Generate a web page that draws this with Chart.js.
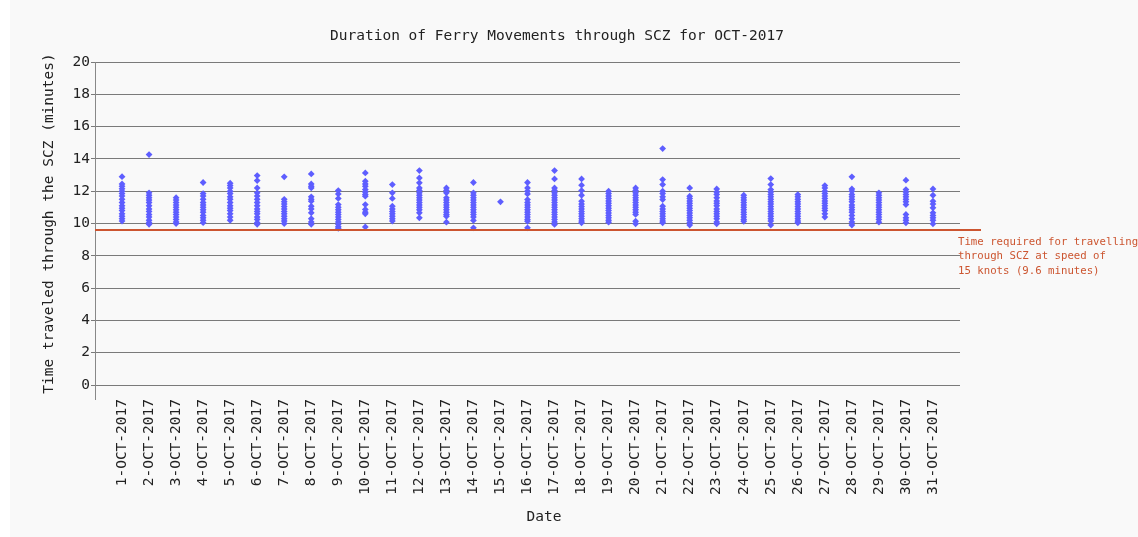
<!DOCTYPE html>
<html>
<head>
<meta charset="utf-8">
<script src="https://cdn.jsdelivr.net/npm/chart.js@4.4.1/dist/chart.umd.min.js"></script>
<style>
  html, body { margin: 0; padding: 0; background: #ffffff; }
  #wrap { position: absolute; left: 10px; top: 0; width: 1128px; height: 537px; background: #f9f9f9; }
</style>
</head>
<body>
<div id="wrap"><canvas id="chart" width="1128" height="537"></canvas></div>
<script>
// Dates along the x axis
const dayLabels = [];
for (let d = 1; d <= 31; d++) dayLabels.push(d + '-OCT-2017');

// Minutes taken by each ferry crossing, one list per day
const durations = [
  [12.9, 12.45, 12.3, 12.15, 12.0, 11.85, 11.7, 11.5, 11.3, 11.1, 10.95, 10.8, 10.6, 10.45, 10.3, 10.15],
  [14.27, 11.9, 11.75, 11.6, 11.45, 11.3, 11.1, 10.9, 10.75, 10.55, 10.4, 10.2, 10.05, 9.95],
  [11.6, 11.45, 11.3, 11.15, 11.0, 10.85, 10.7, 10.55, 10.4, 10.25, 10.1, 10.0],
  [12.54, 11.85, 11.7, 11.5, 11.3, 11.15, 11.0, 10.85, 10.7, 10.5, 10.35, 10.2, 10.05],
  [12.5, 12.35, 12.2, 12.0, 11.85, 11.65, 11.5, 11.3, 11.1, 10.95, 10.8, 10.6, 10.4, 10.2],
  [12.97, 12.66, 12.2, 11.9, 11.7, 11.5, 11.3, 11.1, 10.9, 10.75, 10.6, 10.4, 10.25, 10.05, 9.95],
  [12.89, 11.5, 11.35, 11.2, 11.05, 10.9, 10.75, 10.6, 10.45, 10.3, 10.15, 10.0],
  [13.07, 12.45, 12.3, 12.2, 11.65, 11.5, 11.38, 11.07, 10.9, 10.66, 10.3, 10.1, 9.95],
  [12.04, 11.83, 11.55, 11.17, 11.0, 10.85, 10.7, 10.55, 10.4, 10.25, 10.1, 9.95, 9.8, 9.7],
  [13.13, 12.62, 12.45, 12.3, 12.1, 11.95, 11.8, 11.69, 11.17, 10.87, 10.7, 10.6, 9.79],
  [12.41, 11.9, 11.55, 11.07, 10.9, 10.75, 10.6, 10.45, 10.3, 10.15],
  [13.28, 12.82, 12.52, 12.2, 12.05, 11.9, 11.75, 11.6, 11.45, 11.3, 11.15, 11.0, 10.85, 10.66, 10.35],
  [12.2, 12.05, 11.9, 11.59, 11.45, 11.3, 11.15, 11.0, 10.85, 10.7, 10.55, 10.45, 10.08],
  [12.54, 11.9, 11.75, 11.6, 11.45, 11.3, 11.15, 11.0, 10.85, 10.7, 10.55, 10.4, 10.19, 9.73],
  [11.34],
  [12.54, 12.2, 12.0, 11.83, 11.48, 11.3, 11.15, 11.0, 10.85, 10.7, 10.55, 10.4, 10.25, 10.14, 9.73],
  [13.28, 12.76, 12.2, 12.05, 11.9, 11.75, 11.6, 11.45, 11.3, 11.15, 11.0, 10.85, 10.7, 10.55, 10.4, 10.25, 10.1, 9.94],
  [12.76, 12.37, 12.04, 11.75, 11.38, 11.2, 11.05, 10.9, 10.75, 10.6, 10.45, 10.3, 10.15, 10.04],
  [12.0, 11.85, 11.7, 11.55, 11.4, 11.25, 11.1, 10.95, 10.8, 10.65, 10.5, 10.35, 10.2, 10.08],
  [12.2, 12.05, 11.9, 11.75, 11.6, 11.45, 11.3, 11.15, 11.0, 10.85, 10.7, 10.56, 10.14, 9.98],
  [14.64, 12.72, 12.41, 12.0, 11.85, 11.65, 11.48, 11.07, 10.9, 10.75, 10.6, 10.45, 10.3, 10.15, 10.04],
  [12.2, 11.69, 11.55, 11.4, 11.25, 11.1, 10.95, 10.8, 10.65, 10.5, 10.35, 10.2, 10.05, 9.9],
  [12.14, 11.95, 11.8, 11.6, 11.4, 11.25, 11.1, 10.9, 10.75, 10.6, 10.45, 10.3, 10.1, 9.98],
  [11.75, 11.6, 11.45, 11.3, 11.15, 11.0, 10.85, 10.7, 10.55, 10.4, 10.25, 10.14],
  [12.78, 12.41, 12.1, 11.95, 11.8, 11.65, 11.5, 11.35, 11.2, 11.05, 10.9, 10.75, 10.6, 10.45, 10.3, 10.15, 9.9],
  [11.79, 11.65, 11.5, 11.35, 11.2, 11.05, 10.9, 10.75, 10.6, 10.45, 10.3, 10.15, 10.04],
  [12.35, 12.2, 12.0, 11.85, 11.7, 11.55, 11.4, 11.25, 11.1, 10.95, 10.8, 10.6, 10.4],
  [12.89, 12.14, 12.0, 11.8, 11.65, 11.5, 11.35, 11.15, 11.0, 10.85, 10.7, 10.5, 10.3, 10.1, 9.9],
  [11.9, 11.75, 11.6, 11.45, 11.3, 11.15, 11.0, 10.85, 10.7, 10.55, 10.4, 10.25, 10.08],
  [12.68, 12.1, 11.95, 11.8, 11.65, 11.5, 11.35, 11.17, 10.56, 10.35, 10.2, 10.04],
  [12.14, 11.75, 11.38, 11.2, 10.97, 10.66, 10.5, 10.35, 10.2, 9.98]
];

// Reference speed line (15 knots)
const thresholdMinutes = 9.6;
const thresholdLines = ['Time required for travelling', 'through SCZ at speed of', '15 knots (9.6 minutes)'];

const chartTitle = 'Duration of Ferry Movements through SCZ for OCT-2017';
const xTitle = 'Date';

const MONO = '"DejaVu Sans Mono", "Liberation Mono", monospace';
const RED = '#cc5530';
const INK = '#222';

const punkte = [];
durations.forEach((tag, i) => {
  tag.forEach(v => punkte.push({ x: i + 1, y: v }));
});

// Title, x title, red threshold line + note right of the plot
const schwellePlugin = {
  id: 'schwelle',
  afterDatasetsDraw(chart) {
    const ctx = chart.ctx;
    const area = chart.chartArea;
    const y = chart.scales.y.getPixelForValue(thresholdMinutes);
    ctx.save();
    // y axis runs a bit below zero like the original
    ctx.strokeStyle = '#888';
    ctx.lineWidth = 1;
    ctx.beginPath();
    ctx.moveTo(area.left + 0.5, area.bottom);
    ctx.lineTo(area.left + 0.5, area.bottom + 15);
    ctx.stroke();

    ctx.strokeStyle = RED;
    ctx.lineWidth = 2;
    ctx.beginPath();
    ctx.moveTo(area.left, y);
    ctx.lineTo(area.right + 21, y);
    ctx.stroke();

    ctx.fillStyle = RED;
    ctx.font = '10.7px ' + MONO;
    ctx.textBaseline = 'middle';
    ctx.textAlign = 'left';
    thresholdLines.forEach((t, k) => {
      ctx.fillText(t, area.right - 2, y + 12 + k * 14.5);
    });

    // titles (the original does not center them on the plot)
    ctx.fillStyle = INK;
    ctx.font = '14.5px ' + MONO;
    ctx.textAlign = 'center';
    ctx.fillText(chartTitle, 547, 36);
    ctx.fillText(xTitle, 534, 517);
    ctx.restore();
  }
};

new Chart(document.getElementById('chart'), {
  type: 'scatter',
  data: {
    datasets: [{
      data: punkte,
      pointStyle: 'rectRot',
      pointRadius: 3.4,
      pointBackgroundColor: '#5e5eff',
      pointBorderColor: '#5e5eff',
      pointBorderWidth: 0
    }]
  },
  options: {
    responsive: false,
    animation: false,
    layout: { padding: { left: 31, right: 178, top: 62, bottom: 6 } },
    plugins: {
      legend: { display: false },
      tooltip: { enabled: false },
      title: { display: false }
    },
    scales: {
      x: {
        type: 'linear',
        min: 0,
        max: 32,
        border: { display: false },
        grid: { display: false },
        afterBuildTicks(scale) {
          scale.ticks = dayLabels.map((_, i) => ({ value: i + 1 }));
        },
        afterFit(scale) { scale.height = 146; },
        ticks: {
          autoSkip: false,
          minRotation: 90,
          maxRotation: 90,
          padding: 6,
          color: INK,
          font: { family: MONO, size: 14.5 },
          callback: v => dayLabels[v - 1] || ''
        }
      },
      y: {
        min: 0,
        max: 20,
        border: { display: true, color: '#888' },
        grid: { color: '#7a7a7a', lineWidth: 1, tickLength: 4, drawTicks: true },
        afterFit(scale) { scale.width = 54; },
        ticks: {
          stepSize: 2,
          padding: 1,
          color: INK,
          font: { family: MONO, size: 14.5 }
        },
        title: {
          display: true,
          text: 'Time traveled through the SCZ (minutes)',
          color: INK,
          font: { family: MONO, size: 14.5 },
          padding: { top: 0, bottom: 0 }
        }
      }
    }
  },
  plugins: [schwellePlugin]
});
</script>
</body>
</html>
